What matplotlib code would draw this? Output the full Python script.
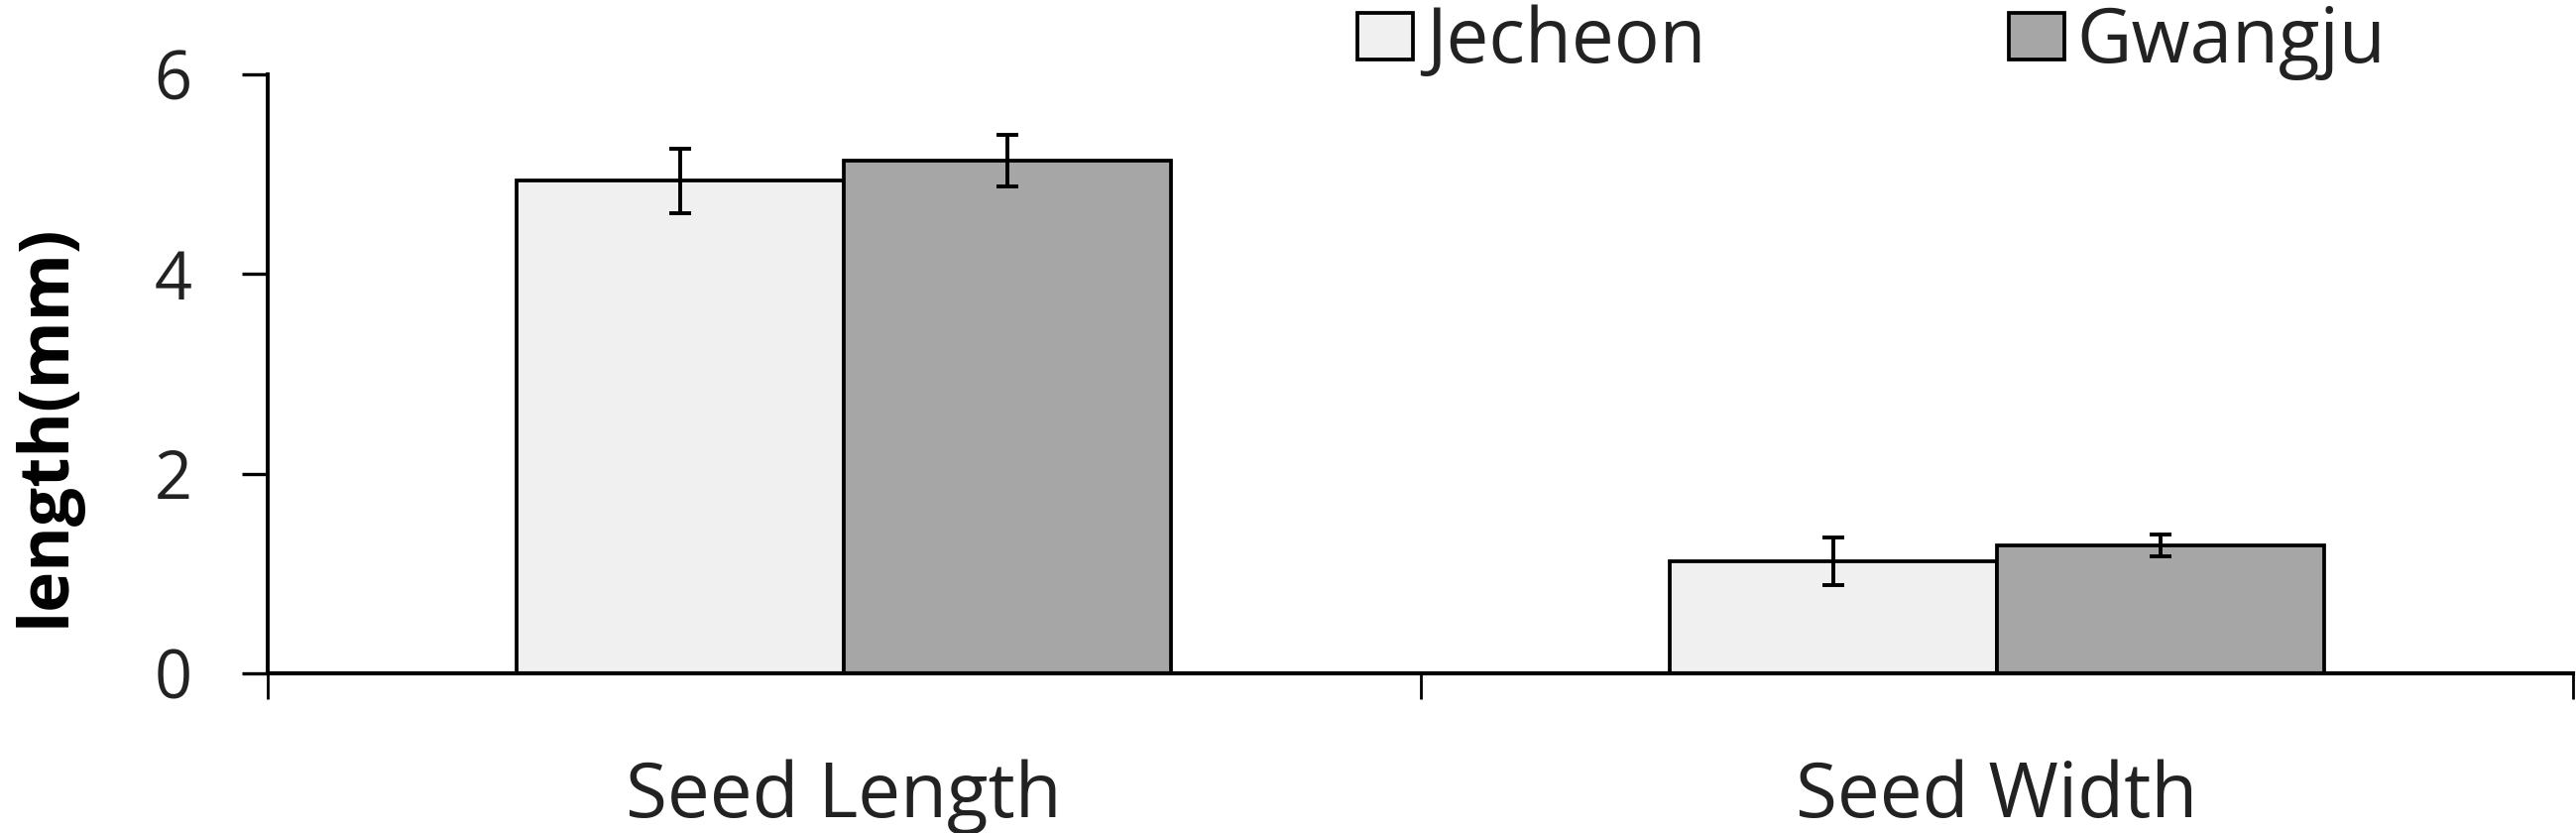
import matplotlib
matplotlib.use("Agg")
import matplotlib.pyplot as plt
import numpy as np

categories = ["Seed Length", "Seed Width"]
series_names = ["Jecheon", "Gwangju"]
jecheon = [4.93, 1.12]
jecheon_err = [0.32, 0.24]
gwangju = [5.13, 1.28]
gwangju_err = [0.26, 0.11]
yticks = [0, 2, 4, 6]

plt.rcParams['font.family'] = ['Open Sans', 'DejaVu Sans']

W, H = 2598, 840
fig = plt.figure(figsize=(W / 100, H / 100), dpi=100)
ax = fig.add_axes([270 / W, 1 - 679 / H, (2595 - 270) / W, (679 - 74.6) / H])

x = np.arange(len(categories))
bw = 0.284
lw = 2.7
ekw = dict(elinewidth=2.8, capthick=2.8, ecolor='black', capsize=8)
ax.bar(x - bw / 2, jecheon, bw, yerr=jecheon_err, color='#f0f0f0', edgecolor='black',
       linewidth=lw, label=series_names[0], error_kw=ekw, zorder=2)
ax.bar(x + bw / 2, gwangju, bw, yerr=gwangju_err, color='#a6a6a6', edgecolor='black',
       linewidth=lw, label=series_names[1], error_kw=ekw, zorder=2)

ax.set_xlim(-0.5, 1.5)
ax.set_ylim(0, 6)
ax.set_yticks(yticks)
ax.set_yticklabels([str(t) for t in yticks], fontsize=48, color='#222222')
ax.tick_params(axis='y', direction='out', length=19, width=2.4, pad=36)

ax.set_xticks([-0.5, 0.5, 1.5])
ax.set_xticklabels([])
ax.set_xticks(x, minor=True)
ax.set_xticklabels(categories, minor=True, fontsize=55, color='#222222')
ax.tick_params(axis='x', which='major', direction='out', length=19, width=2.0)
ax.tick_params(axis='x', which='minor', length=0, pad=62)

for s in ['top', 'right']:
    ax.spines[s].set_visible(False)
ax.spines['left'].set_linewidth(2.8)
ax.spines['bottom'].set_linewidth(3.0)

fig.text(47 / W, 1 - 429 / H, "length(mm)", rotation=90, ha='center', va='center',
         fontsize=50, fontweight='bold')

leg = fig.legend(loc='center left', bbox_to_anchor=(1369 / W, 1 - 43 / H), ncol=2,
                 frameon=False, fontsize=55, handlelength=0.73, handleheight=0.56,
                 handletextpad=0.17, columnspacing=4.0, borderpad=0, borderaxespad=0)
for t in leg.get_texts():
    t.set_color('#222222')

fig.savefig("out.png", dpi=100, facecolor='white')
